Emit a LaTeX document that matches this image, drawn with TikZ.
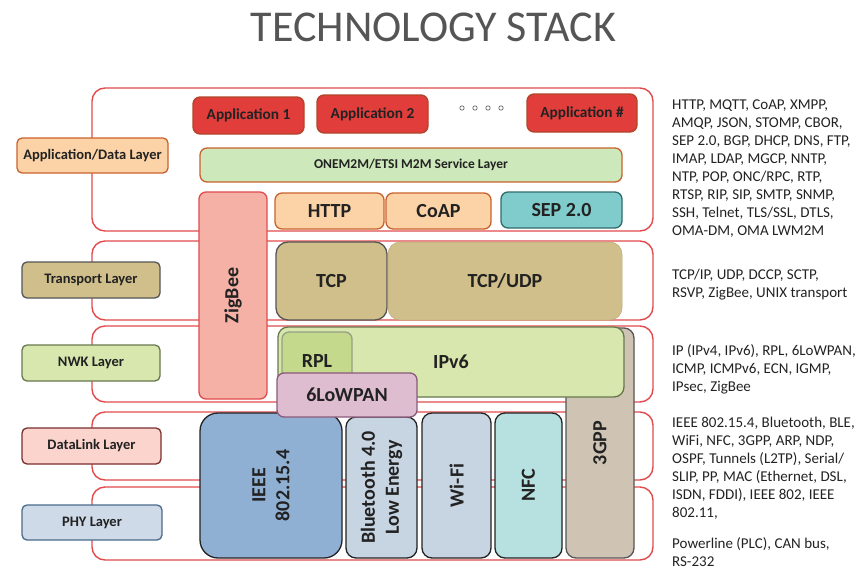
\documentclass[tikz,border=0pt]{standalone}
\usepackage{fontspec}
\setmainfont{Carlito}
\usepackage{xcolor}
\usepackage{tikz}
\usetikzlibrary{positioning}

\definecolor{ink}{HTML}{222222}
\definecolor{titlegray}{HTML}{555555}
\definecolor{panelred}{HTML}{E24B4D}
\definecolor{appred}{HTML}{E03D3B}
\definecolor{appline}{HTML}{B0452A}
\definecolor{peach}{HTML}{FCD3A6}
\definecolor{peachline}{HTML}{C8622D}
\definecolor{m2mgreen}{HTML}{CDE8BA}
\definecolor{septeal}{HTML}{80CBCB}
\definecolor{tealline}{HTML}{2F6B6B}
\definecolor{zigpink}{HTML}{F5B1A6}
\definecolor{tan}{HTML}{D0BF8B}
\definecolor{grayline}{HTML}{555555}
\definecolor{ipgreen}{HTML}{D7E7AE}
\definecolor{ipline}{HTML}{68784E}
\definecolor{rplgreen}{HTML}{C4D98C}
\definecolor{lilac}{HTML}{DFBDD0}
\definecolor{lilacline}{HTML}{8A5A7A}
\definecolor{gppgray}{HTML}{CFC3B4}
\definecolor{ieeeblue}{HTML}{8FB0D3}
\definecolor{paleblue}{HTML}{C7D4E1}
\definecolor{nfcteal}{HTML}{B7E1E1}
\definecolor{dlpink}{HTML}{FBD4CD}
\definecolor{dlline}{HTML}{7A2E2E}
\definecolor{phyblue}{HTML}{CEDAE8}
\definecolor{phyline}{HTML}{4A6A8A}

\newcommand\fsz[2]{\fontsize{#1}{#2}\selectfont}

\begin{document}
\begin{tikzpicture}[x=1pt, y=-1pt,
    panel/.style={draw=panelred, line width=1.4pt, rounded corners=13pt},
    blk/.style={draw, line width=1.3pt, rounded corners=7pt, inner sep=0pt,
      text=ink, font=\bfseries\fsz{20}{24}},
    vblk/.style={blk, rotate=90, align=center},
    lyr/.style={blk, rounded corners=5pt, font=\bfseries\fsz{14.5}{16}},
    list/.style={anchor=north west, inner sep=0pt, align=left, text=ink,
      font=\fsz{15}{18}}]
    \useasboundingbox (0,0) rectangle (856,570);

    % title
    \node[text=titlegray, font=\fsz{44}{50}] (title) at (433.5,27) {TECHNOLOGY STACK};

    % layer panels
    \draw[panel] (92,88) rectangle (653,231);
    \draw[panel] (92,241) rectangle (653,320);
    \draw[panel] (92,326) rectangle (653,402);
    \draw[panel] (92,412) rectangle (653,480);
    \draw[panel] (92,487) rectangle (653,560);

    % layer names
    \node[lyr, fill=peach, draw=peachline, minimum width=151, minimum height=35] (lapp) at (92.5,155.5) {Application/Data Layer};
    \node[lyr, fill=tan, draw=grayline, minimum width=138, minimum height=36] (ltrans) at (91,280) {Transport Layer};
    \node[lyr, fill=ipgreen, draw=ipline, minimum width=138, minimum height=36] (lnwk) at (91,363) {NWK Layer};
    \node[lyr, fill=dlpink, draw=dlline, minimum width=139, minimum height=36] (ldl) at (91.5,446) {DataLink Layer};
    \node[lyr, fill=phyblue, draw=phyline, minimum width=140, minimum height=35] (lphy) at (92,522.5) {PHY Layer};

    % applications
    \node[blk, fill=appred, draw=appline, font=\bfseries\fsz{15.3}{18}, minimum width=111, minimum height=37] (app1) at (248.5,115.5) {Application 1};
    \node[blk, fill=appred, draw=appline, font=\bfseries\fsz{15.3}{18}, minimum width=111, minimum height=38] (app2) at (372.5,114) {Application 2};
    \node[blk, fill=appred, draw=appline, font=\bfseries\fsz{15.3}{18}, minimum width=110, minimum height=38] (appn) at (582,113) {Application \#};
    \foreach \x in {462,475,488,501}
        \draw[grayline, line width=0.6pt] (\x,108) circle (2.2);
    \node[blk, fill=m2mgreen, draw=peachline, font=\bfseries\fsz{13.5}{16}, minimum width=422, minimum height=34] (m2m) at (411,165) {ONEM2M/ETSI M2M Service Layer};

    % protocols
    \node[vblk, fill=zigpink, draw=panelred, minimum width=207, minimum height=68] (zigbee) at (233,295.5) {ZigBee};
    \node[blk, fill=peach, draw=peachline, minimum width=109, minimum height=36] (http) at (329.5,211) {HTTP};
    \node[blk, fill=peach, draw=peachline, minimum width=105, minimum height=36] (coap) at (438.5,211) {CoAP};
    \node[blk, fill=septeal, draw=tealline, minimum width=121, minimum height=36] (sep) at (561.5,210) {SEP 2.0};
    \node[blk, fill=tan, draw=grayline, rounded corners=12pt, minimum width=111, minimum height=78] (tcp) at (331.5,281) {TCP};
    \node[blk, fill=tan, draw=tan!90!black, line width=0.5pt, rounded corners=12pt, minimum width=234, minimum height=78] (tcpudp) at (505,281) {TCP/UDP};
    \node[vblk, fill=gppgray, draw=grayline, rounded corners=10pt, minimum width=230, minimum height=68] (gpp) at (600,443) {3GPP};
    \node[blk, fill=ipgreen, draw=ipline, rounded corners=10pt, minimum width=346, minimum height=70] (ipv6) at (451,362) {IPv6};
    \node[blk, fill=rplgreen, draw=ipline!70, minimum width=70, minimum height=58] (rpl) at (317,361) {RPL};

    % link / phy
    \node[vblk, fill=ieeeblue, draw=ink, rounded corners=18pt, minimum width=145, minimum height=142] (ieee) at (271,485.5) {IEEE\\802.15.4};
    \node[vblk, fill=paleblue, draw=ink, rounded corners=10pt, minimum width=141, minimum height=71] (bt) at (381.5,487.5) {Bluetooth 4.0\\Low Energy};
    \node[vblk, fill=paleblue, draw=ink, rounded corners=10pt, minimum width=145, minimum height=69] (wifi) at (456.5,485.5) {Wi-Fi};
    \node[vblk, fill=nfcteal, draw=ink, rounded corners=10pt, minimum width=145, minimum height=67] (nfc) at (528.5,485.5) {NFC};
    \node[blk, fill=lilac, draw=lilacline, minimum width=140, minimum height=44] (lowpan) at (347,395) {6LoWPAN};

    % protocol lists
    \node[list] (tapp) at (672,100) {HTTP, MQTT, CoAP, XMPP,\\AMQP, JSON, STOMP, CBOR,\\SEP 2.0, BGP, DHCP, DNS, FTP,\\IMAP, LDAP, MGCP, NNTP,\\NTP, POP, ONC/RPC, RTP,\\RTSP, RIP, SIP, SMTP, SNMP,\\SSH, Telnet, TLS/SSL, DTLS,\\OMA-DM, OMA LWM2M};
    \node[list] (ttrans) at (672,269) {TCP/IP, UDP, DCCP, SCTP,\\RSVP, ZigBee, UNIX transport};
    \node[list] (tnwk) at (672,344) {IP (IPv4, IPv6), RPL, 6LoWPAN,\\ICMP, ICMPv6, ECN, IGMP,\\IPsec, ZigBee};
    \node[list] (tdl) at (672,417) {IEEE 802.15.4, Bluetooth, BLE,\\WiFi, NFC, 3GPP, ARP, NDP,\\OSPF, Tunnels (L2TP), Serial/\\SLIP, PP, MAC (Ethernet, DSL,\\ISDN, FDDI), IEEE 802, IEEE\\802.11,};
    \node[list] (tphy) at (672,537) {Powerline (PLC), CAN bus,\\RS-232};
\end{tikzpicture}
\end{document}
